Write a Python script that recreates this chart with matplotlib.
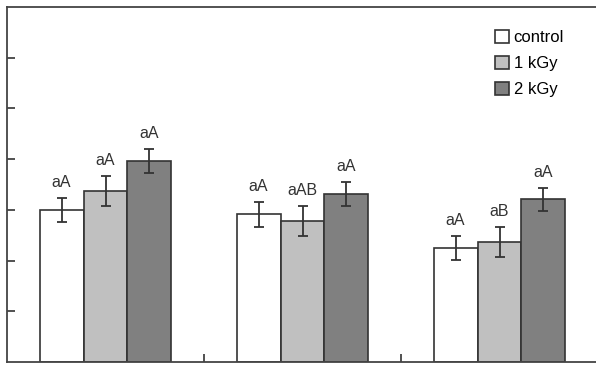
import numpy as np
import matplotlib
matplotlib.use("Agg")
import matplotlib.pyplot as plt

plt.rcParams['font.family'] = ['Liberation Sans', 'DejaVu Sans']

# Data
groups = ["g1", "g2", "g3"]
series = ["control", "1 kGy", "2 kGy"]
means = {
    "control": [3.00, 2.91, 2.25],
    "1 kGy": [3.37, 2.78, 2.37],
    "2 kGy": [3.96, 3.31, 3.21],
}
errs = {
    "control": [0.24, 0.25, 0.24],
    "1 kGy": [0.30, 0.30, 0.29],
    "2 kGy": [0.24, 0.24, 0.23],
}
letters = {
    "control": ["aA", "aA", "aA"],
    "1 kGy": ["aA", "aAB", "aB"],
    "2 kGy": ["aA", "aA", "aA"],
}
colors = {"control": "white", "1 kGy": "#c0c0c0", "2 kGy": "#808080"}

fig = plt.figure(figsize=(5.96, 3.75), dpi=100)
ax = fig.add_axes([7 / 596, 1 - 362 / 375, 591 / 596, 355 / 375])

x = np.arange(len(groups))
width = 0.223
edge = "#333333"

for i, name in enumerate(series):
    pos = x + (i - 1) * width
    ax.bar(pos, means[name], width, color=colors[name], edgecolor=edge,
           linewidth=1.2, label=name, zorder=2)
    ax.errorbar(pos, means[name], yerr=errs[name], fmt="none", ecolor=edge,
                elinewidth=1.3, capsize=3.5, capthick=1.3, zorder=3)
    for p, m, e, t in zip(pos, means[name], errs[name], letters[name]):
        ax.text(p, m + e + 0.15, t, ha="center", va="bottom", fontsize=11.5,
                color="#333333")

ax.set_xlim(-0.5, 2.5)
ax.set_ylim(0, 7)
ax.set_xticks([0.5, 1.5])
ax.set_yticks(range(1, 7))
ax.set_xticklabels([])
ax.set_yticklabels([])
ax.tick_params(direction="in", length=6, width=1.2, color=edge)
for s in ax.spines.values():
    s.set_color("#444444")
    s.set_linewidth(1.3)

leg = ax.legend(loc="upper right", bbox_to_anchor=(0.962, 0.968), frameon=False,
                fontsize=12, handlelength=0.85, handleheight=0.85,
                handletextpad=0.25, labelspacing=0.62, borderaxespad=0.3)

fig.savefig("out.png", dpi=100)
